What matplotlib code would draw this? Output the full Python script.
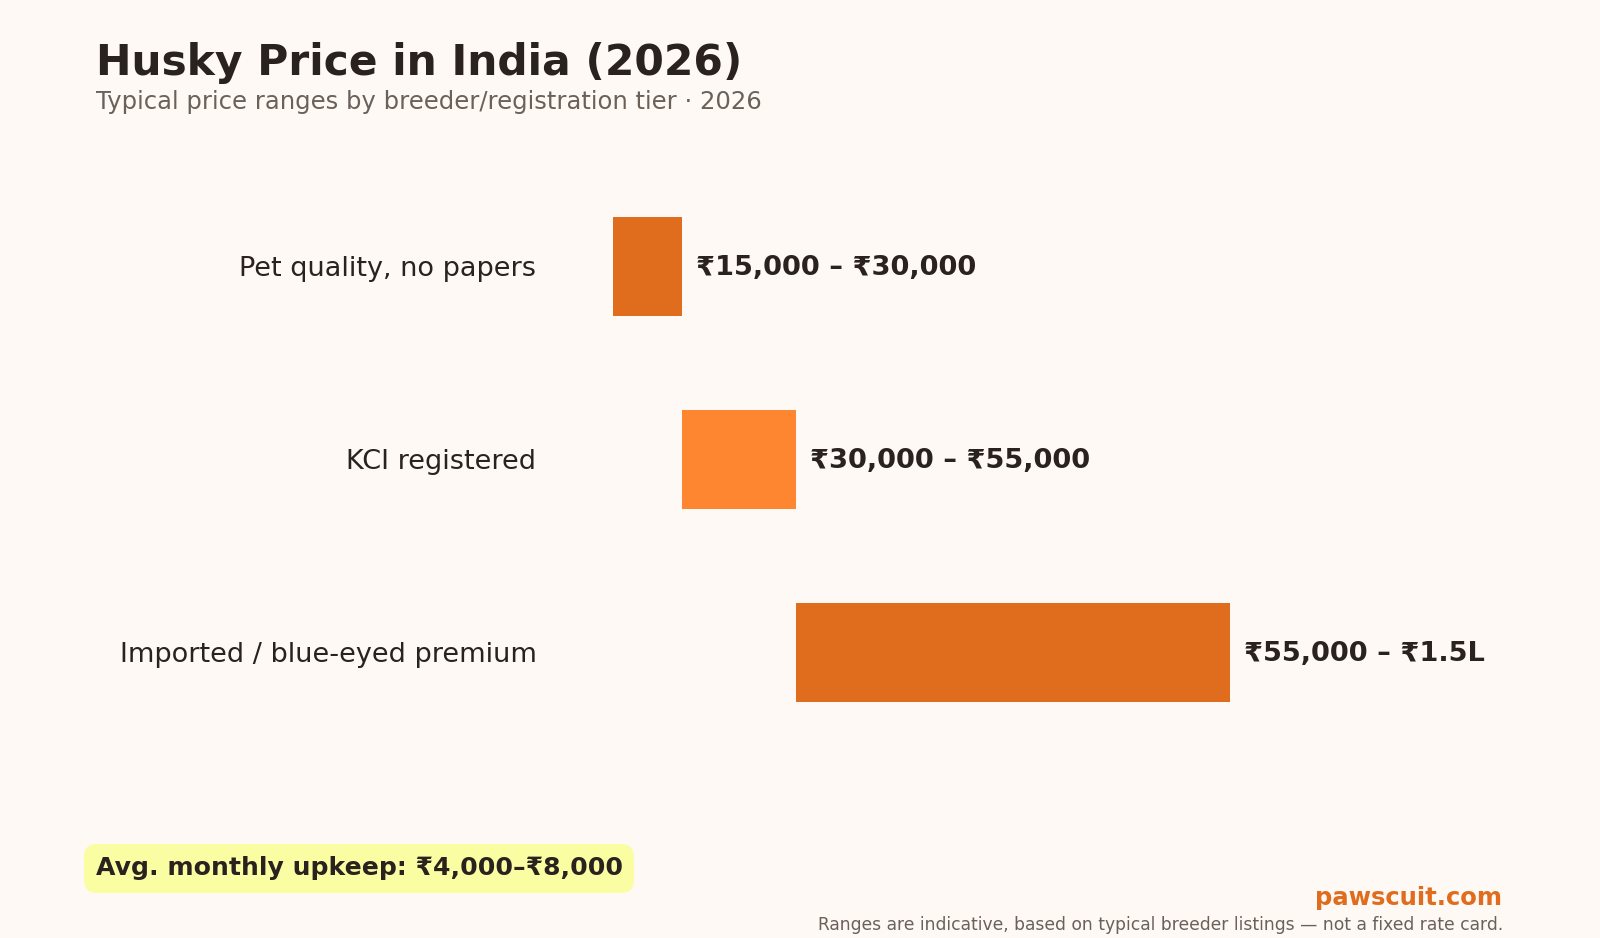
import matplotlib
matplotlib.use("Agg")
import matplotlib.pyplot as plt
from matplotlib.patches import FancyBboxPatch

categories = ["Pet quality, no papers", "KCI registered", "Imported / blue-eyed premium"]
low_values = [15000, 30000, 55000]
high_values = [30000, 55000, 150000]
value_labels = ["₹15,000 – ₹30,000", "₹30,000 – ₹55,000", "₹55,000 – ₹1.5L"]
bar_colors = ["#E06D1D", "#FF8630", "#E06D1D"]

BG = "#FEF9F4"
DARK = "#2A221E"
GREY = "#6B615B"

plt.rcParams['font.family'] = ['DejaVu Sans']

W, H = 1600, 938
fig = plt.figure(figsize=(16, 9.38), dpi=100)
fig.patch.set_facecolor(BG)

ax = fig.add_axes([0.3405, 0.0992, 0.5706, 0.8226])
ax.set_facecolor(BG)

ypos = list(range(len(categories)))
widths = [h - l for l, h in zip(low_values, high_values)]
ax.barh(ypos, widths, left=low_values, height=0.513, color=bar_colors, edgecolor='none')

for y, h, lab in zip(ypos, high_values, value_labels):
    ax.annotate(lab, xy=(h, y), xytext=(10.5, -1.2), textcoords='offset points',
                ha='left', va='center', fontsize=19.6, fontweight='bold', color=DARK)

ax.set_xlim(0, 200000)
ax.set_ylim(3.0, -1.0)
ax.set_yticks(ypos)
ax.set_yticklabels(categories, fontsize=19.5, color=DARK)
ax.tick_params(axis='y', length=0, pad=6)
ax.set_xticks([])
for s in ax.spines.values():
    s.set_visible(False)

fig.text(96/W, 1 - 63/H, "Husky Price in India (2026)", fontsize=30.5, fontweight='bold',
         color=DARK, ha='left', va='center')
fig.text(96/W, 1 - 101.5/H, "Typical price ranges by breeder/registration tier · 2026", fontsize=17.5,
         color=GREY, ha='left', va='center')

# Upkeep box
bx0, bx1, by0, by1 = 84, 634, 844, 893
box = FancyBboxPatch((bx0/W, 1 - by1/H), (bx1 - bx0)/W, (by1 - by0)/H,
                     boxstyle="round,pad=0,rounding_size=0.008", transform=fig.transFigure,
                     facecolor="#FBFDA2", edgecolor='none', mutation_aspect=W/H)
fig.patches.append(box)
fig.text(96/W, 1 - 868/H, "Avg. monthly upkeep: ₹4,000–₹8,000", fontsize=18.1, fontweight='bold',
         color=DARK, ha='left', va='center')

fig.text(1502/W, 1 - 898/H, "pawscuit.com", fontsize=17.5, fontweight='bold',
         color="#E06D1D", ha='right', va='center')
fig.text(1503/W, 1 - 925/H, "Ranges are indicative, based on typical breeder listings — not a fixed rate card.",
         fontsize=12.35, color=GREY, ha='right', va='center')

fig.savefig("out.png", dpi=100, facecolor=BG)
